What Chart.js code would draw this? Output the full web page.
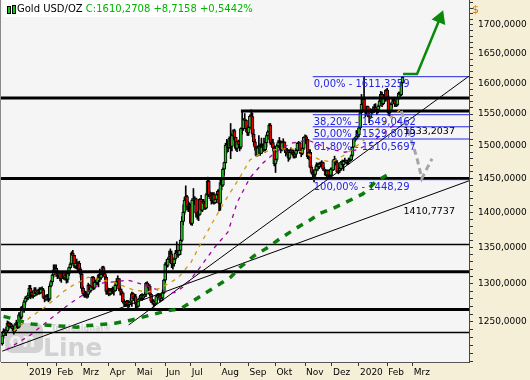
<!DOCTYPE html>
<html>
<head>
<meta charset="utf-8">
<script src="https://cdn.jsdelivr.net/npm/chart.js@4.4.1/dist/chart.umd.min.js"></script>
<style>
html, body { margin: 0; padding: 0; background: #f6efd8; }
#wrap { position: relative; width: 530px; height: 380px; overflow: hidden; }
canvas { display: block; }
#title { position: absolute; left: 3px; top: 0; width: 233px; height: 17px; padding-left: 14px; background: #fff;
         font: 10px 'DejaVu Sans', sans-serif; line-height: 17px; white-space: nowrap; color: #000; }
#title .grn { color: #00b400; }
#title i { position: absolute; border: 1px solid #000; background: #19c419; }
#dollar { position: absolute; left: 472px; top: 3px; font: 11px 'DejaVu Sans', sans-serif; color: #c87800; }
</style>
</head>
<body>
<div id="wrap">
  <canvas id="myChart" width="530" height="380"></canvas>
  <div id="title"><i style="left:4px;top:6px;width:2px;height:6px"></i><i style="left:9px;top:5px;width:2px;height:7px"></i><span>Gold USD/OZ</span> <span class="grn">C:1610,2708 +8,7158 +0,5442%</span></div>
  <div id="dollar">$</div>
</div>
<script>
// Monate / Achsenbeschriftung
const monthLabels = ['2019', 'Feb', 'Mrz', 'Apr', 'Mai', 'Jun', 'Jul', 'Aug', 'Sep', 'Okt', 'Nov', 'Dez', '2020', 'Feb', 'Mrz'];
// Handelstage je Monat: Dez 2018 .. Feb 2020
const monthDays = [20, 22, 20, 21, 21, 23, 20, 23, 22, 21, 23, 21, 21, 22, 20];
const yTickLabels = [1250, 1300, 1350, 1400, 1450, 1500, 1550, 1600, 1650, 1700];

// Tageskerzen (Eröffnung = Vortagesschluss)
const firstOpen = 1222;
const closes = [
  1232,1238,1237,1238,1248,1244,1246,1244,1241,1238,1246,1249,1243,1259,1256,1269,1267,1276,1281,1282,
  1284,1294,1285,1289,1284,1292,1287,1289,1291,1288,1293,1292,1282,1280,1281,1283,1280,1297,1303,1312,1319,1321,
  1317,1311,1315,1307,1309,1315,1308,1312,1306,1314,1322,1327,1342,1339,1324,1328,1328,1328,1320,1313,
  1294,1287,1286,1286,1286,1298,1291,1296,1309,1295,1302,1302,1306,1312,1308,1313,1322,1314,1309,1290,1292,
  1287,1291,1290,1292,1291,1298,1303,1307,1293,1290,1288,1276,1273,1276,1274,1272,1275,1277,1287,1280,1283,
  1273,1270,1279,1281,1285,1281,1284,1286,1301,1297,1297,1286,1277,1277,1273,1274,1283,1284,1284,1278,1281,1288,1305,
  1327,1325,1334,1337,1341,1327,1327,1334,1342,1341,1340,1346,1360,1387,1400,1418,1423,1408,1411,1409,
  1384,1418,1419,1420,1399,1396,1397,1419,1403,1416,1413,1406,1426,1446,1426,1425,1417,1426,1414,1419,1426,1431,1413,
  1444,1440,1464,1474,1501,1500,1497,1512,1499,1516,1524,1513,1496,1507,1502,1498,1527,1527,1542,1540,1527,1520,
  1529,1547,1546,1518,1506,1498,1485,1497,1499,1488,1498,1501,1494,1505,1516,1522,1532,1504,1505,1497,1472,
  1479,1500,1505,1505,1494,1505,1506,1494,1489,1492,1481,1490,1492,1489,1484,1487,1493,1504,1505,1492,1488,1496,1513,
  1514,1510,1483,1490,1467,1459,1456,1456,1463,1471,1468,1472,1472,1474,1464,1462,1455,1462,1455,1455,1464,
  1463,1477,1475,1474,1460,1462,1465,1475,1471,1476,1476,1475,1475,1478,1478,1485,1498,1511,1511,1515,1517,
  1528,1552,1566,1574,1556,1553,1562,1548,1545,1557,1552,1557,1560,1558,1557,1563,1571,1582,1567,1577,1576,1589,
  1577,1552,1556,1566,1570,1572,1567,1565,1576,1584,1581,1601.555,1610.2708
];
const highs = [
  1236,1241,1240,1243,1251,1250,1249,1248,1246,1242,1248,1252,1250,1262,1262,1270,1272,1278,1283,1284,
  1288,1298,1298,1291,1290,1295,1295,1291,1293,1295,1295,1296,1294,1284,1285,1286,1285,1300,1305,1313,1326,1326,
  1326,1319,1317,1317,1311,1317,1316,1314,1314,1316,1323,1329,1344,1346,1339,1332,1334,1330,1331,1322,
  1315,1296,1291,1290,1289,1301,1299,1298,1310,1310,1304,1305,1308,1313,1320,1316,1324,1324,1317,1311,1296,
  1294,1294,1294,1296,1295,1301,1307,1311,1307,1296,1293,1288,1279,1277,1278,1278,1277,1281,1289,1288,1285,
  1286,1275,1280,1283,1286,1287,1286,1288,1302,1303,1300,1299,1287,1279,1279,1277,1285,1287,1287,1286,1283,1292,1306,
  1329,1333,1335,1345,1348,1345,1331,1336,1346,1358,1346,1354,1362,1394,1411,1422,1439,1425,1416,1414,
  1412,1420,1435,1423,1421,1401,1402,1420,1425,1418,1419,1415,1428,1452,1448,1430,1429,1429,1429,1421,1428,1433,1434,
  1448,1449,1466,1475,1504,1510,1508,1514,1535,1519,1525,1526,1513,1507,1509,1506,1528,1555,1543,1551,1541,1531,
  1531,1549,1557,1552,1526,1510,1498,1500,1516,1503,1512,1503,1512,1507,1518,1524,1535,1535,1511,1510,1500,
  1484,1502,1508,1513,1508,1507,1511,1506,1497,1496,1494,1494,1497,1494,1494,1490,1496,1505,1507,1505,1494,1497,1514,
  1517,1516,1510,1494,1494,1470,1463,1463,1468,1474,1473,1474,1475,1477,1475,1467,1463,1463,1463,1459,1466,
  1466,1479,1484,1480,1477,1465,1467,1476,1478,1478,1481,1478,1478,1481,1481,1486,1499,1512,1513,1524,1522,
  1530,1553,1582,1575,1611.33,1558,1563,1563,1553,1559,1558,1562,1566,1567,1560,1565,1573,1587,1586,1582,1578,1590,
  1592,1580,1559,1568,1574,1575,1574,1570,1577,1586,1586,1603,1612
];
const lows = [
  1220,1229,1233,1232,1236,1240,1242,1242,1238,1234,1236,1244,1241,1242,1251,1254,1264,1262,1272,1277,
  1279,1281,1280,1282,1281,1283,1284,1285,1286,1286,1287,1288,1280,1276,1278,1278,1276,1278,1296,1300,1309,1315,
  1310,1307,1309,1304,1302,1307,1306,1305,1301,1302,1311,1321,1326,1334,1322,1321,1320,1317,1318,1309,
  1290,1284,1282,1282,1281,1282,1288,1289,1294,1292,1293,1299,1299,1296,1303,1306,1311,1311,1304,1286,1286,
  1284,1285,1286,1287,1285,1290,1296,1300,1291,1285,1286,1275,1270,1270,1270,1266,1269,1273,1270,1278,1278,
  1268,1266,1269,1278,1279,1278,1279,1283,1283,1295,1293,1284,1275,1273,1269,1271,1273,1280,1282,1276,1277,1278,1287,
  1302,1322,1323,1329,1330,1322,1320,1324,1332,1338,1336,1339,1340,1358,1382,1397,1413,1403,1401,1405,
  1382,1381,1411,1411,1393,1390,1388,1396,1402,1401,1407,1404,1405,1420,1423,1420,1412,1413,1412,1413,1414,1424,1402,
  1403,1433,1438,1455,1473,1489,1491,1496,1480,1492,1509,1510,1493,1491,1497,1492,1495,1518,1524,1532,1522,1516,
  1516,1526,1538,1514,1501,1493,1484,1484,1496,1485,1493,1497,1491,1490,1498,1510,1520,1502,1499,1492,1469,
  1459,1476,1497,1502,1489,1492,1502,1492,1484,1487,1476,1479,1487,1487,1481,1481,1482,1490,1499,1488,1483,1486,1494,
  1503,1505,1480,1479,1466,1457,1450,1445,1453,1461,1462,1465,1467,1468,1462,1461,1454,1451,1451,1452,1453,
  1454,1462,1472,1470,1459,1457,1459,1462,1467,1462,1474,1472,1471,1472,1476,1477,1483,1499,1507,1509,1512,
  1514,1525,1552,1557,1554,1546,1550,1546,1536,1543,1549,1552,1556,1555,1549,1552,1560,1570,1562,1565,1570,1571,
  1573,1548,1547,1554,1561,1567,1562,1562,1563,1574,1577,1580,1600
];

// gleitende Durchschnitte [Handelstag, Kurs]
const maOrange = [[9,1238],[22,1256],[34,1270],[48,1290],[55,1298],[67,1309],[87,1302],[102,1292],[113,1289],[123,1294],
  [137,1308],[147,1329],[154,1353],[165,1389],[174,1418],[184,1448],[193,1478],[203,1490],[213,1494],[225,1496],
  [236,1489],[248,1478],[257,1475],[267,1486],[277,1501],[287,1517],[298,1537],[310,1557]];
const maPurple = [[3,1214],[22,1233],[46,1265],[53,1274],[69,1292],[77,1301],[98,1305],[108,1300],[121,1292],[134,1288],
  [143,1298],[154,1322],[165,1349],[176,1372],[183,1414],[193,1451],[203,1473],[213,1490],[225,1504],[238,1509],
  [248,1501],[257,1494],[267,1490],[277,1494],[287,1504],[298,1521],[310,1541]];
const maGreen = [[1,1257],[23,1247],[58,1243],[67,1245],[88,1248],[100,1252],[128,1264],[139,1267],[178,1309],[185,1322],
  [196,1338],[207,1350],[217,1363],[228,1376],[240,1389],[248,1399],[258,1406],[267,1414],[281,1427],[291,1445],[304,1460]];

// Horizontale Linien [Kurs, ab Handelstag, dick]
const hLines = [[1576, -5, true], [1555, 186, true], [1450, -5, true], [1354, -5, false],
  [1316.5, -5, true], [1266, -5, true], [1236, -5, false]];
// Trendlinien [Handelstag, Kurs]
const trendLow = [[0, 1212.5], [364, 1446.7]];
const trendHigh = [[98.5, 1245.8], [364, 1612.6]];
const trendValues = [1533.2037, 1410.7737];
// Fibonacci-Retracement
const fibStart = 242;
const fibPct = ['0,00%', '38,20%', '50,00%', '61,80%', '100,00%'];
const fibLevels = [1611.3259, 1549.0462, 1529.8079, 1510.5697, 1448.29];
// Zeichnungen: Prognose-Pfeil und Zickzack
const arrowPath = [[312.4, 1616], [323.3, 1616], [341.2, 1712]];
const zigzagPath = [[311, 1555], [317, 1520], [323, 1483], [327, 1450], [335, 1480]];

const lastIdx = closes.length - 1;
const opens = closes.map((c, i) => i === 0 ? firstOpen : closes[i - 1]);
const monthStarts = [];
monthDays.reduce((sum, d) => { monthStarts.push(sum + d); return sum + d; }, 0);

const fmt = v => v.toFixed(4).replace('.', ',');
const toXY = arr => arr.map(p => ({x: p[0], y: p[1]}));

function lineSet(data, color, width, dash, order) {
  return { type: 'line', data: data, borderColor: color, borderWidth: width, borderDash: dash || [],
    pointRadius: 0, fill: false, tension: 0, order: order };
}

const datasets = [];
// Kerzen: Docht und Körper
datasets.push({
  type: 'bar', order: 20, grouped: false, barThickness: 1, backgroundColor: '#000', borderWidth: 0,
  data: closes.map((c, i) => ({x: i, y: [Math.min(lows[i], opens[i], c), Math.max(highs[i], opens[i], c)]}))
});
datasets.push({
  type: 'bar', order: 19, grouped: false, barThickness: 3, borderWidth: 1, borderColor: '#000', borderSkipped: false,
  backgroundColor: closes.map((c, i) => c >= opens[i] ? '#1fc21f' : '#e40000'),
  data: closes.map((c, i) => ({x: i, y: [opens[i], c]}))
});
hLines.forEach(h => {
  datasets.push(lineSet([{x: h[1], y: h[0]}, {x: 380, y: h[0]}], '#000', h[2] ? 3 : 1.5, null, 10));
});
fibLevels.forEach(v => {
  datasets.push(lineSet([{x: fibStart, y: v}, {x: 380, y: v}], '#2424e6', 1, null, 5));
});
datasets.push(lineSet(toXY(trendLow), '#000', 1, null, 4));
datasets.push(lineSet(toXY(trendHigh), '#000', 1, null, 4));
datasets.push(lineSet(toXY(maOrange), '#cf9a12', 1.3, [4, 5], 3));
datasets.push(lineSet(toXY(maPurple), '#a000a0', 1.3, [4, 5], 3));
datasets.push(lineSet(toXY(maGreen), '#0b7d0b', 3.5, [7, 7], 2));
datasets.push(lineSet(toXY(zigzagPath), '#a6a6a6', 3, [6, 4], 1));
const arrow = lineSet(toXY(arrowPath), '#0a8a0a', 2.5, null, 1);
arrow.pointRadius = [0, 0, 6];
arrow.pointStyle = 'triangle';
arrow.pointRotation = 22;
arrow.pointBackgroundColor = '#0a8a0a';
arrow.pointBorderColor = '#0a8a0a';
datasets.push(arrow);

// Hintergrund, Wasserzeichen und Beschriftungen
const decoPlugin = {
  id: 'deco',
  beforeDraw(chart) {
    const {ctx, chartArea: a} = chart;
    ctx.save();
    ctx.fillStyle = '#f6efd8';
    ctx.fillRect(0, 0, chart.width, chart.height);
    ctx.fillStyle = '#f5f5f5';
    ctx.fillRect(a.left, a.top, a.right - a.left, a.bottom - a.top);
    ctx.strokeStyle = '#8a8a8a';
    ctx.lineWidth = 1;
    ctx.beginPath();
    ctx.moveTo(0.5, 0);
    ctx.lineTo(0.5, a.bottom);
    ctx.stroke();
    ctx.restore();
  },
  beforeDatasetsDraw(chart) {
    const {ctx, chartArea: a} = chart;
    const x0 = a.left + 4, y0 = a.bottom - 39;
    ctx.save();
    ctx.fillStyle = '#d2d2d2';
    ctx.beginPath();
    ctx.roundRect(x0, y0, 38, 30, 7);
    ctx.fill();
    ctx.fillStyle = '#efefef';
    ctx.font = 'bold 19px "DejaVu Sans"';
    ctx.fillText('on', x0 + 4, y0 + 24);
    ctx.fillStyle = '#d2d2d2';
    ctx.font = 'bold 25px "DejaVu Sans"';
    ctx.fillText('Line', x0 + 38, y0 + 33);
    ctx.font = 'bold 8px "DejaVu Sans"';
    ctx.fillText('Tradesignal\u00ae', x0 + 46, y0 + 8);
    ctx.restore();
  },
  afterDatasetsDraw(chart) {
    const {ctx, scales: {x, y}} = chart;
    ctx.save();
    ctx.textBaseline = 'top';
    ctx.font = '10px "DejaVu Sans"';
    ctx.fillStyle = '#2424e6';
    fibLevels.forEach((v, i) => {
      const txt = fibPct[i] + ' - ' + fmt(v).replace(/0+$/, '');
      ctx.fillText(txt, x.getPixelForValue(fibStart) + 1, y.getPixelForValue(v) + 3);
    });
    ctx.font = '9.5px "DejaVu Sans"';
    ctx.fillStyle = '#000';
    trendValues.forEach(v => {
      ctx.fillText(fmt(v), x.getPixelForValue(lastIdx) + 1, y.getPixelForValue(v) + 2);
    });
    ctx.restore();
  }
};

const yTicksAll = [];
for (let v = 1200; v <= 1740; v += 10) yTicksAll.push(v);

function noPad(s) {
  s.paddingTop = 0; s.paddingBottom = 0; s.paddingLeft = 0; s.paddingRight = 0;
}

new Chart(document.getElementById('myChart').getContext('2d'), {
  type: 'bar',
  data: { datasets: datasets },
  plugins: [decoPlugin],
  options: {
    responsive: false,
    animation: false,
    devicePixelRatio: 1,
    layout: { autoPadding: false, padding: { left: 1, right: 0, top: 0, bottom: 0 } },
    plugins: { legend: { display: false }, tooltip: { enabled: false } },
    scales: {
      x: {
        type: 'linear', position: 'bottom', offset: false,
        min: -1.0, max: 363.8,
        afterBuildTicks: s => { s.ticks = monthStarts.map(v => ({value: v})); },
        afterFit: s => { s.height = 18; noPad(s); },
        grid: { drawOnChartArea: false, tickLength: 4, color: '#333', offset: false },
        border: { color: '#555', width: 1 },
        ticks: {
          autoSkip: false, maxRotation: 0, align: 'start', padding: 1, labelOffset: 1,
          color: '#000', font: { family: 'DejaVu Sans', size: 9 },
          callback: (v, i) => monthLabels[i]
        }
      },
      y: {
        type: 'logarithmic', position: 'right', bounds: 'data',
        min: 1198.9, max: 1744.6,
        afterBuildTicks: s => { s.ticks = yTicksAll.map(v => ({value: v})); },
        afterFit: s => { s.width = 61; noPad(s); },
        grid: { drawOnChartArea: false, tickLength: 4, color: '#333' },
        border: { color: '#444', width: 1 },
        ticks: {
          autoSkip: false, padding: 5, color: '#000', font: { family: 'DejaVu Sans', size: 9 },
          callback: v => yTickLabels.includes(v) ? fmt(v) : ''
        }
      }
    }
  }
});
</script>
</body>
</html>
